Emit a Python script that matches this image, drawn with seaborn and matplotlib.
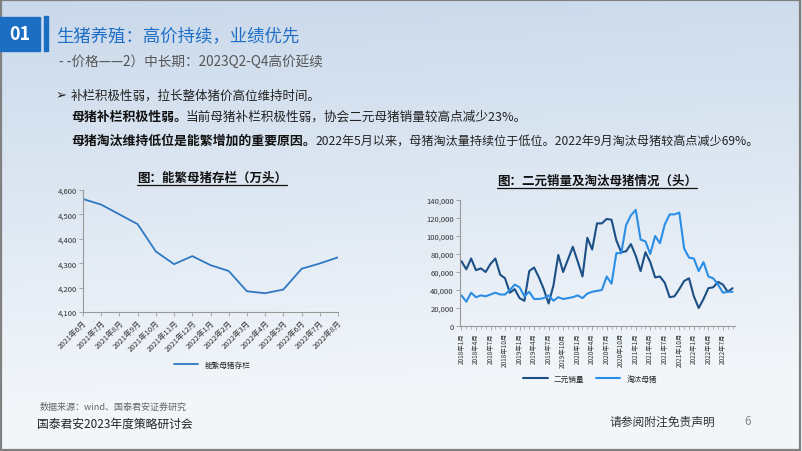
import numpy as np
import pandas as pd
import matplotlib
matplotlib.use("Agg")
import matplotlib.pyplot as plt
from matplotlib.patches import Rectangle
from matplotlib.lines import Line2D
import seaborn as sns

sns.set_theme(style="white")
plt.rcParams['font.family'] = ['Noto Sans CJK SC', 'DejaVu Sans']
plt.rcParams['axes.unicode_minus'] = False

# ---------------- data ----------------
left_months = ["2021年6月", "2021年7月", "2021年8月", "2021年9月", "2021年10月", "2021年11月",
               "2021年12月", "2022年1月", "2022年2月", "2022年3月", "2022年4月", "2022年5月",
               "2022年6月", "2022年7月", "2022年8月"]
sow_stock = [4563, 4540, 4500, 4460, 4348, 4296, 4329, 4292, 4268, 4185, 4177, 4192, 4277, 4299, 4324]

right_tick_labels = ["2018年1月", "2018年4月", "2018年7月", "2018年10月", "2019年1月", "2019年4月",
                     "2019年7月", "2019年10月", "2020年1月", "2020年4月", "2020年7月", "2020年10月",
                     "2021年1月", "2021年4月", "2021年7月", "2021年10月", "2022年1月", "2022年4月",
                     "2022年7月"]
erlyuan_sales = [72, 63, 75, 62, 64, 60, 69, 75, 57, 53, 37, 41, 31, 28, 61, 65, 54, 41, 25, 45,
                 79, 60, 74, 88, 72, 55, 98, 85, 114, 114, 119, 118, 95, 82, 83, 91, 78, 61, 82, 71,
                 54, 55, 48, 32, 33, 41, 50, 53, 33, 20, 30, 42, 43, 49, 46, 38, 42]
culled_sows = [34, 27, 37, 32, 34, 33, 35, 37, 35, 35, 40, 46, 43, 33, 38, 30, 30, 31, 34, 28,
               32, 30, 31, 32, 34, 31, 36, 38, 39, 40, 55, 47, 81, 81, 112, 123, 129, 96, 94, 80,
               100, 92, 113, 124, 124, 126, 86, 76, 75, 61, 71, 55, 53, 46, 37, 38, 38]
erlyuan_sales = [v * 1000 for v in erlyuan_sales]
culled_sows = [v * 1000 for v in culled_sows]

W, H = 802, 452
fig = plt.figure(figsize=(W / 100, H / 100), dpi=100)

def fx(x):
    return x / W

def fy(y):
    return 1 - y / H

# ---------------- background ----------------
bg = fig.add_axes([0, 0, 1, 1], zorder=-10)
yy = np.linspace(0, 1, 200)[:, None]
xx = np.linspace(0, 1, 300)[None, :]
top = np.array([0.79, 0.85, 0.92])
bot = np.array([0.95, 0.965, 0.98])
t = np.clip(yy * 1.1 + xx * 0.1, 0, 1)[..., None]
img = top * (1 - t) + bot * t
bg.imshow(img, aspect='auto', extent=[0, 1, 0, 1], origin='upper')
bg.set_xlim(0, 1); bg.set_ylim(0, 1)
bg.axis('off')
bg.add_patch(Rectangle((0.001, 0.002), 0.997, 0.995, fill=False, edgecolor='#808080', lw=1.6,
                       transform=bg.transAxes))

# header
bg.add_patch(Rectangle((fx(0), fy(52)), fx(40), fy(18) - fy(52), color='#1b6ec2', transform=bg.transAxes))
bg.add_patch(Rectangle((fx(44), fy(52)), fx(4), fy(17) - fy(52), color='#1b6ec2', transform=bg.transAxes))
fig.text(fx(20), fy(35), "01", color='white', fontsize=13, fontweight='bold', ha='center', va='center')
fig.text(fx(56), fy(36), "生猪养殖：高价持续，业绩优先", color='#1f6fc6', fontsize=12.5, ha='left', va='center')
fig.text(fx(59), fy(62), "- -价格——2）中长期：2023Q2-Q4高价延续", color='#555555', fontsize=9.8, ha='left', va='center')

# bullet text
fig.text(fx(56), fy(96), "➢", color='#222222', fontsize=9.5, ha='left', va='center')
fig.text(fx(71), fy(96), "补栏积极性弱，拉长整体猪价高位维持时间。", color='#222222', fontsize=9, ha='left', va='center')

fig.canvas.draw()
renderer = fig.canvas.get_renderer()

def two_part(y, bold_txt, norm_txt, gap=2, nsize=9):
    b = fig.text(fx(71), fy(y), bold_txt, color='#111111', fontsize=9.3, fontweight='bold', ha='left', va='center')
    bb = b.get_window_extent(renderer=renderer)
    x_end = (bb.x1 + gap) / fig.dpi / fig.get_figwidth()
    fig.text(x_end, fy(y), norm_txt, color='#222222', fontsize=nsize, ha='left', va='center')

two_part(117, "母猪补栏积极性弱。", "当前母猪补栏积极性弱，协会二元母猪销量较高点减少23%。", gap=-1, nsize=9.1)
two_part(141, "母猪淘汰维持低位是能繁增加的重要原因。", "2022年5月以来，母猪淘汰量持续位于低位。2022年9月淘汰母猪较高点减少69%。", gap=0, nsize=8.7)

def underlined_title(xc, y, s):
    tt = fig.text(fx(xc), fy(y), s, color='#111111', fontsize=9, fontweight='bold', ha='center', va='center')
    fig.canvas.draw()
    bb = tt.get_window_extent(renderer=fig.canvas.get_renderer())
    x0 = bb.x0 / (W) ; x1 = bb.x1 / W
    yl = fy(y + 7.5)
    fig.add_artist(Line2D([x0, x1], [yl, yl], color='#111111', lw=0.9, transform=fig.transFigure))

underlined_title(212, 178, "图：能繁母猪存栏（万头）")
underlined_title(597, 181, "图：二元销量及淘汰母猪情况（头）")

# ---------------- left chart ----------------
axL = fig.add_axes([fx(83), fy(313), fx(338) - fx(83), fy(191) - fy(313)])
axL.patch.set_alpha(0)
dfL = pd.DataFrame({"idx": np.arange(len(left_months)), "val": sow_stock})
sns.lineplot(data=dfL, x="idx", y="val", ax=axL, color='#2f78c2', lw=1.3, label="能繁母猪存栏")
axL.set_xlim(0, len(left_months) - 1)
axL.set_ylim(4100, 4600)
axL.set_yticks(np.arange(4100, 4601, 100))
axL.set_yticklabels([f"{v:,}" for v in range(4100, 4601, 100)], fontsize=5.5, color='#333333')
axL.set_xticks(np.arange(len(left_months)))
axL.set_xticklabels(left_months, rotation=45, ha='right', rotation_mode='anchor', fontsize=5.5, color='#333333')
axL.set_xlabel(""); axL.set_ylabel("")
for s in ['top', 'right']:
    axL.spines[s].set_visible(False)
for s in ['left', 'bottom']:
    axL.spines[s].set_color('#999999'); axL.spines[s].set_linewidth(0.8)
axL.tick_params(axis='both', which='major', length=3, width=0.6, color='#999999', pad=1.5, direction='out',
                left=True, bottom=True)
axL.grid(False)
axL.legend(loc='center', bbox_to_anchor=((212 - 83) / (338 - 83), (313 - 366) / (313 - 191)), frameon=False,
           fontsize=5.5, handlelength=3.2)

# ---------------- right chart ----------------
axR = fig.add_axes([fx(460), fy(327), fx(735) - fx(460), fy(201) - fy(327)])
axR.patch.set_alpha(0)
n = len(erlyuan_sales)
dfR = pd.DataFrame({
    "idx": np.concatenate([np.arange(n), np.arange(n)]),
    "val": erlyuan_sales + culled_sows,
    "series": ["二元销量"] * n + ["淘汰母猪"] * n,
})
sns.lineplot(data=dfR, x="idx", y="val", hue="series", ax=axR,
             palette={"二元销量": '#1c4f86', "淘汰母猪": '#2b8ee6'}, lw=1.5)
axR.set_xlim(-0.3, n - 0.5)
axR.set_ylim(0, 140000)
axR.set_yticks(np.arange(0, 140001, 20000))
axR.set_yticklabels(["0"] + [f"{v:,}" for v in range(20000, 140001, 20000)], fontsize=5.5, color='#333333')
axR.set_xticks(np.arange(0, n, 3))
axR.set_xticklabels(right_tick_labels, rotation=90, fontsize=4.6, color='#333333')
axR.set_xticks(np.arange(0, n), minor=True)
axR.set_xlabel(""); axR.set_ylabel("")
for s in ['top', 'right']:
    axR.spines[s].set_visible(False)
for s in ['left', 'bottom']:
    axR.spines[s].set_color('#999999'); axR.spines[s].set_linewidth(0.8)
axR.tick_params(axis='both', which='major', length=3, width=0.6, color='#999999', pad=1.5, direction='out',
                left=True, bottom=True)
axR.tick_params(axis='x', which='minor', length=2, width=0.5, color='#999999', bottom=True)
axR.grid(False)
axR.legend(loc='center', bbox_to_anchor=((590 - 460) / (735 - 460), (327 - 380) / (327 - 201)), frameon=False,
           fontsize=5.5, ncol=2, handlelength=3.2, columnspacing=1.5)

# ---------------- footer ----------------
fig.text(fx(40), fy(407), "数据来源：wind、国泰君安证券研究", color='#666666', fontsize=6.5, ha='left', va='center')
fig.text(fx(37), fy(424), "国泰君安2023年度策略研讨会", color='#222222', fontsize=8.5, ha='left', va='center')
fig.text(fx(610), fy(422), "请参阅附注免责声明", color='#333333', fontsize=8.5, ha='left', va='center')
fig.text(fx(748), fy(422), "6", color='#888888', fontsize=8.5, ha='center', va='center')

fig.savefig("out.png", dpi=100)
